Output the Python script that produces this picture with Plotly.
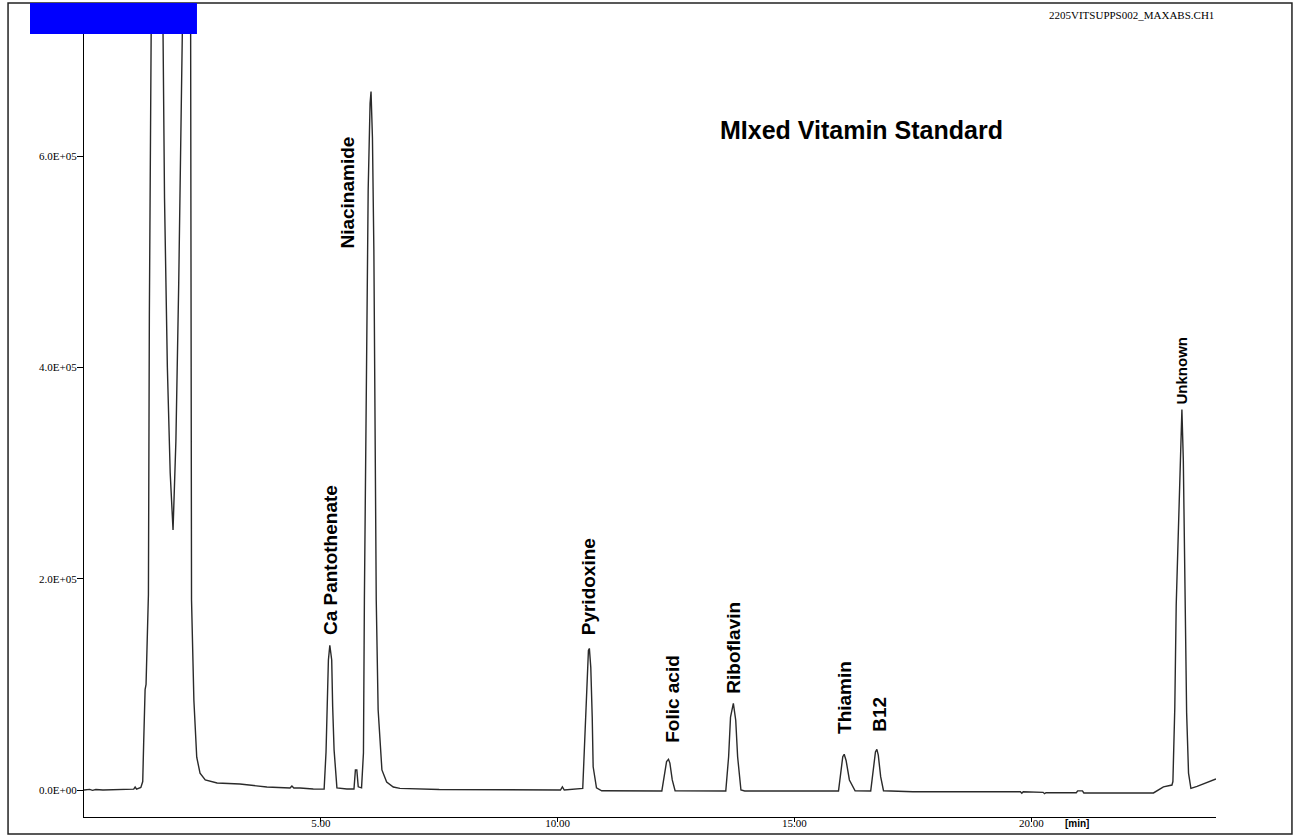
import plotly.graph_objects as go

# Chromatogram trace: retention time (min) and detector response (counts)
time_min = [
    0.00, 0.12, 0.18, 0.25, 0.40, 0.80, 1.05, 1.08, 1.11,
    # solvent front (two overlapping, off-scale peaks)
    1.20, 1.24, 1.26, 1.29, 1.31, 1.33, 1.36, 1.38, 1.40, 1.53, 1.66, 1.70,
    1.76, 1.82, 1.88, 1.94, 2.00, 2.05, 2.09, 2.17, 2.25, 2.27, 2.32, 2.38,
    2.45, 2.56, 2.81, 3.29, 3.86, 4.35, 4.39, 4.43, 4.56, 4.84, 5.07,
    # Ca pantothenate and small shoulder
    5.11, 5.14, 5.16, 5.19, 5.23, 5.25, 5.28, 5.34, 5.55, 5.70, 5.73, 5.76,
    5.79, 5.86,
    # niacinamide
    5.90, 5.92, 5.96, 6.00, 6.04, 6.06, 6.09, 6.12, 6.17, 6.21, 6.29, 6.39,
    6.53, 6.67, 7.50, 9.00, 10.06, 10.10, 10.14, 10.53,
    # pyridoxine
    10.58, 10.61, 10.65, 10.67, 10.70, 10.73, 10.75, 10.82, 10.93, 12.20,
    # folic acid
    12.27, 12.30, 12.34, 12.37, 12.42, 12.48, 13.55,
    # riboflavin
    13.61, 13.65, 13.71, 13.76, 13.80, 13.87, 13.95, 15.93,
    # thiamin
    15.98, 16.02, 16.05, 16.09, 16.16, 16.28, 16.61,
    # B12
    16.67, 16.71, 16.74, 16.77, 16.82, 16.88, 17.50, 19.77, 19.80, 19.83,
    20.25, 20.28, 20.31, 20.95, 20.98, 21.08, 21.11, 22.58, 22.79, 22.97,
    # unknown
    22.99, 23.00, 23.03, 23.06, 23.14, 23.18, 23.21, 23.25, 23.28, 23.32,
    23.37, 23.50, 23.70, 23.90,
]
signal = [
    0, 600, -300, 500, 0, 400, 800, 2800, 800,
    2500, 8000, 45000, 95000, 100000, 140000, 185000, 450000, 760000, 1500000, 760000, 560000,
    400000, 300000, 246000, 330000, 480000, 640000, 760000, 1700000, 760000, 180000, 85000, 31000,
    16000, 9500, 6600, 5700, 2800, 1900, 3800, 1900, 1900, 1000, 800,
    36000, 85000, 123000, 137000, 123000, 79000, 38000, 2000, 1000, 1000, 19000, 19000,
    3000, 2000,
    35000, 180000, 380000, 568000, 650000, 661000, 617000, 511000, 180000, 76000, 19000, 7600,
    2800, 1500, 500, 0, 0, 3000, 0, 1500,
    54000, 92000, 132000, 134000, 116000, 69000, 22000, 2000, -700, -900,
    16000, 27000, 29000, 25500, 9500, -700, -900,
    31500, 69000, 82000, 66000, 31500, 0, -900, -900,
    19000, 31500, 33800, 28000, 9500, -700, -900,
    19000, 36000, 38500, 33000, 12600, -700, -1600, -1600, -3000, -1600,
    -2200, -3500, -2500, -2600, -800, -800, -2800, -2800, 3000, 4700,
    8000, 23700, 77600, 175000, 312000, 360000, 312000, 183000, 73000, 16000,
    1600, 3500, 6600, 10400,
]

# Identified peaks: name, retention time (min), apex response
peak_names = ["Ca Pantothenate", "Niacinamide", "Pyridoxine", "Folic acid",
              "Riboflavin", "Thiamin", "B12", "Unknown"]
peak_rt = [5.19, 6.06, 10.67, 12.34, 13.71, 16.05, 16.74, 23.18]
peak_height = [137000, 661000, 134000, 29000, 82000, 33800, 38500, 360000]

# Axis ticks
y_tick_vals = [0, 200000, 400000, 600000]
y_tick_text = ["0.0E+00", "2.0E+05", "4.0E+05", "6.0E+05"]
x_tick_vals = [5, 10, 15, 20]
x_tick_text = ["5.00", "10.00", "15.00", "20.00"]

fig = go.Figure()
fig.add_trace(go.Scatter(
    x=time_min, y=signal, mode="lines",
    line=dict(color="#2a2a2a", width=1.4),
    hoverinfo="skip", showlegend=False,
))

# label placement offsets in pixels (label, dx, dy, font size)
label_offsets = {
    "Ca Pantothenate": (0, 9, 19),
    "Niacinamide": (-23, -158, 19),
    "Pyridoxine": (0, 12, 19),
    "Folic acid": (4, 16, 19),
    "Riboflavin": (0, 9, 19),
    "Thiamin": (1, 19, 19),
    "B12": (3, 17, 19),
    "Unknown": (0, 4, 15),
}
annotations = []
for name, rt, h in zip(peak_names, peak_rt, peak_height):
    dx, dy, fs = label_offsets[name]
    annotations.append(dict(
        x=rt, y=h, xref="x", yref="y", text=name, showarrow=False,
        textangle=-90, xanchor="center", yanchor="bottom",
        xshift=dx, yshift=dy, borderpad=0,
        font=dict(family="Liberation Sans, Arial", size=fs, color="black", weight="bold"),
    ))

annotations += [
    dict(x=0.687, y=0.844, xref="paper", yref="paper", text="MIxed Vitamin Standard",
         showarrow=False, xanchor="center", yanchor="middle",
         font=dict(family="Liberation Sans, Arial", size=25, color="black", weight="bold")),
    dict(x=0.925, y=0.985, xref="paper", yref="paper", text="2205VITSUPPS002_MAXABS.CH1",
         showarrow=False, xanchor="center", yanchor="middle",
         font=dict(family="Liberation Serif", size=11, color="black")),
    dict(x=0.877, y=-0.0074, xref="paper", yref="paper", text="[min]",
         showarrow=False, xanchor="center", yanchor="middle",
         font=dict(family="Liberation Sans, Arial", size=10, color="black", weight="bold")),
]

shapes = [
    # outer frame
    dict(type="rect", xref="paper", yref="paper", x0=-0.0671, x1=1.0671, y0=-0.0209, y1=1.0,
         line=dict(color="#222222", width=1.5), fillcolor="rgba(0,0,0,0)", layer="above"),
    # blue block top-left
    dict(type="rect", xref="paper", yref="paper", x0=-0.0477, x1=0.0998, y0=0.962, y1=1.0,
         line=dict(width=0), fillcolor="#0000FF", layer="above"),
]

fig.update_layout(
    width=1296, height=835,
    margin=dict(l=84, r=80, t=3, b=18, autoexpand=False),
    paper_bgcolor="white", plot_bgcolor="white",
    annotations=annotations, shapes=shapes,
    xaxis=dict(
        range=[0, 23.9], showgrid=False, zeroline=False, automargin=False,
        showline=True, linecolor="black", linewidth=1,
        tickvals=x_tick_vals, ticktext=x_tick_text,
        ticks="outside", ticklen=4, tickcolor="black", tickwidth=1,
        ticklabelstandoff=-8,
        tickfont=dict(family="Liberation Serif", size=11, color="black"),
    ),
    yaxis=dict(
        range=[-25550, 744800], showgrid=False, zeroline=False, automargin=False,
        showline=True, linecolor="black", linewidth=1,
        tickvals=y_tick_vals, ticktext=y_tick_text,
        ticks="outside", ticklen=6, tickcolor="black", tickwidth=1,
        ticklabelstandoff=-2,
        tickfont=dict(family="Liberation Serif", size=11, color="black"),
    ),
)

fig.write_html("out.html")
